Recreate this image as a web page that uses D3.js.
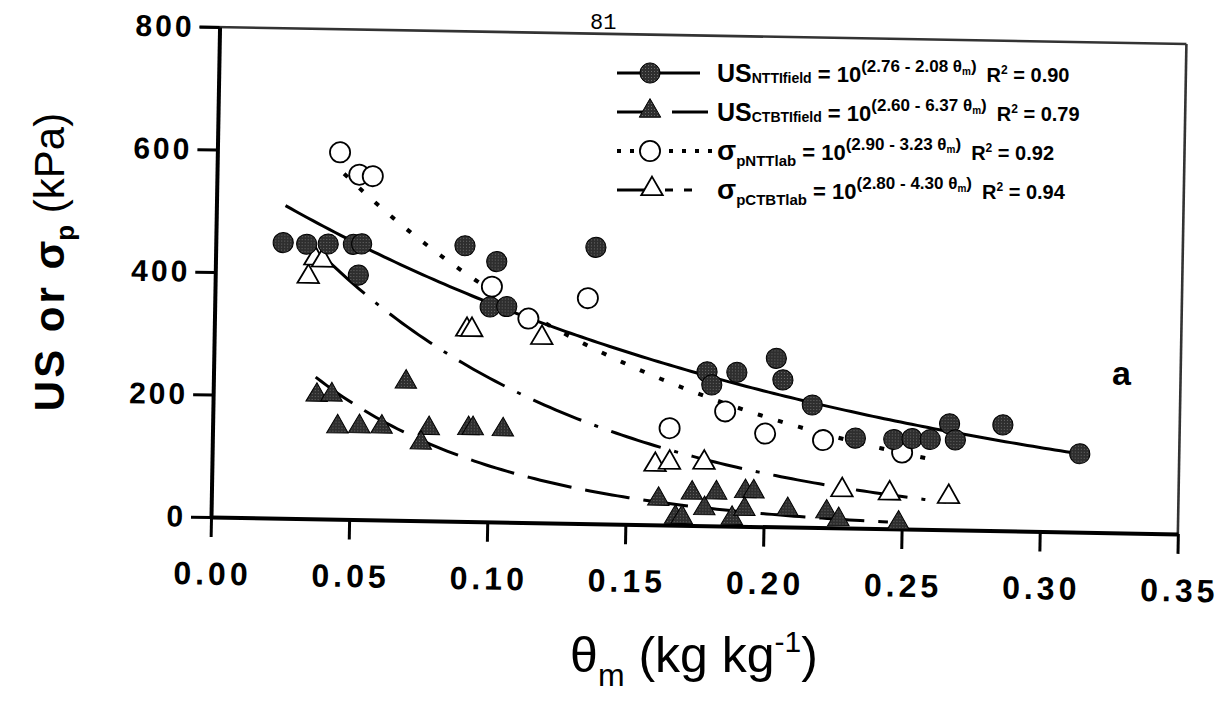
<!DOCTYPE html>
<html><head><meta charset="utf-8">
<script src="https://cdn.jsdelivr.net/npm/d3@7"></script>
<style>
body{margin:0;background:#fff}
svg{display:block;font-family:"Liberation Sans",Arial,sans-serif}
</style></head>
<body><svg id="chart" width="1228" height="706"></svg>
<script>
// ---------- data ----------
const ntField_theta = [0.0244,0.0329,0.0407,0.0498,0.0528,0.0518,0.0902,0.1018,0.0997,0.1057,0.1376,0.1786,0.1804,0.1894,0.2036,0.2061,0.2169,0.2327,0.2466,0.2532,0.2598,0.2667,0.2689,0.2860,0.3140];
const ntField_US    = [450,448,449,449,450,399,450,425,351,352,451,251,230,251,275,240,200,147,146,148,147,173,147,173,128];

const ctField_theta = [0.0375,0.0429,0.0697,0.0452,0.0531,0.0612,0.0783,0.0755,0.0926,0.0942,0.1051,0.1618,0.1680,0.1704,0.1739,0.1785,0.1827,0.1885,0.1932,0.1962,0.1930,0.2086,0.2227,0.2271,0.2488];
const ctField_US    = [202,203,226,151,152,152,151,127,152,152,151,42,13,13,53,28,54,13,57,57,28,29,26,14,10];

const ntLab_theta = [0.0444,0.0515,0.0564,0.1002,0.1136,0.1350,0.1654,0.1854,0.2000,0.2210,0.2497];
const ntLab_sp    = [599,563,561,384,333,368,158,187,152,143,125];

const ctLab_theta = [0.0337,0.0360,0.0388,0.0914,0.0932,0.1186,0.1604,0.1656,0.1781,0.2282,0.2454,0.2668];
const ctLab_sp    = [395,425,422,313,313,302,98,102,103,62,58,54];

// regression fits: value = 10^(a - b*theta)
const fitA    = [2.76, 2.60, 2.90, 2.80];
const fitB    = [2.08, 6.37, 3.23, 4.30];
const fitR2   = ["0.90", "0.79", "0.92", "0.94"];
const fitFrom = [0.025, 0.037, 0.046, 0.040];
const fitTo   = [0.314, 0.245, 0.260, 0.266];

const legendMain = ["US", "US", "\u03c3", "\u03c3"];
const legendSub  = ["NTTIfield", "CTBTIfield", "pNTTlab", "pCTBTlab"];

const xTicks = [0, 0.05, 0.10, 0.15, 0.20, 0.25, 0.30, 0.35];
const yTicks = [0, 200, 400, 600, 800];

// ---------- drawing ----------
const svg = d3.select("#chart");
const defs = svg.append("defs");
const pat = defs.append("pattern").attr("id", "stipple").attr("width", 3).attr("height", 3)
  .attr("patternUnits", "userSpaceOnUse");
pat.append("rect").attr("width", 3).attr("height", 3).attr("fill", "#2e2e2e");
pat.append("rect").attr("x", 1).attr("y", 1).attr("width", 1).attr("height", 1).attr("fill", "#6a6a6a");

const x = d3.scaleLinear().domain([0, 0.35]).range([211, 1178]);
const y = d3.scaleLinear().domain([0, 800]).range([517, 27]);

const g = svg.append("g").attr("transform", "rotate(1,211,517)");

// frame top/right
g.append("line").attr("x1", x(0) - 20).attr("x2", x(0.35)).attr("y1", y(800)).attr("y2", y(800))
  .attr("stroke", "#333").attr("stroke-width", 2.6);
g.append("line").attr("x1", x(0.35)).attr("x2", x(0.35)).attr("y1", y(800)).attr("y2", y(0))
  .attr("stroke", "#333").attr("stroke-width", 2.6);

// axes
const xAxis = d3.axisBottom(x).tickValues(xTicks).tickSize(20).tickSizeOuter(0).tickPadding(25)
  .tickFormat(d3.format(".2f"));
const yAxis = d3.axisLeft(y).tickValues(yTicks).tickSize(20).tickSizeOuter(0).tickPadding(5)
  .tickFormat(d3.format("d"));

const gx = g.append("g").attr("transform", `translate(0,${y(0)})`).call(xAxis);
const gy = g.append("g").attr("transform", `translate(${x(0)},0)`).call(yAxis);
[gx, gy].forEach(a => {
  a.select(".domain").attr("stroke", "#000").attr("stroke-width", 4);
  a.selectAll(".tick line").attr("stroke", "#000").attr("stroke-width", 3);
  a.selectAll(".tick text").attr("fill", "#000").attr("font-weight", "bold")
    .attr("font-family", "'Liberation Sans',Arial,sans-serif");
});
gx.selectAll(".tick text").attr("font-size", 32).attr("letter-spacing", 4).attr("dx", 2);
gy.selectAll(".tick text").attr("font-size", 30).attr("letter-spacing", 3);

// fitted curves
const dashes = [null, "45,14", "5,16", "52,14,4,14"];
const widths = [3, 3, 4, 3];
const line = d3.line().x(d => x(d[0])).y(d => y(d[1]));
fitA.forEach((a, i) => {
  const pts = d3.range(fitFrom[i], fitTo[i], 0.002).concat([fitTo[i]])
    .map(t => [t, Math.pow(10, a - fitB[i] * t)]);
  g.append("path").attr("d", line(pts)).attr("fill", "none")
    .attr("stroke", "#000").attr("stroke-width", widths[i])
    .attr("stroke-dasharray", dashes[i]);
});

const FILL = "url(#stipple)";
const circ = d3.symbol().type(d3.symbolCircle).size(320);
const tri = d3.symbol().type(d3.symbolTriangle).size(200);

function plot(th, vals, sym, filled) {
  g.append("g").selectAll("path").data(th).join("path")
    .attr("transform", (d, i) => `translate(${x(d)},${y(vals[i])})`)
    .attr("d", sym)
    .attr("fill", filled ? FILL : "#fff")
    .attr("stroke", "#000").attr("stroke-width", filled ? 1 : 1.8);
}
plot(ctLab_theta, ctLab_sp, tri, false);
plot(ntLab_theta, ntLab_sp, circ, false);
plot(ctField_theta, ctField_US, tri, true);
plot(ntField_theta, ntField_US, circ, true);

// axis titles
const yl = svg.append("text").attr("transform", "translate(64,262) rotate(-90)")
  .attr("text-anchor", "middle").attr("font-weight", "bold").attr("font-size", 42).attr("fill", "#000");
yl.append("tspan").attr("letter-spacing", 3).text("US or ");
yl.append("tspan").text("\u03c3");
yl.append("tspan").attr("font-size", 26).attr("dy", 10).text("p");
yl.append("tspan").attr("dy", -10).attr("font-weight", "normal").text(" (kPa)");

const xl = svg.append("text").attr("x", 694).attr("y", 672).attr("text-anchor", "middle")
  .attr("font-size", 50).attr("fill", "#000");
xl.append("tspan").text("\u03b8");
xl.append("tspan").attr("font-size", 32).attr("dy", 14).text("m");
xl.append("tspan").attr("dy", -14).text(" (kg kg");
xl.append("tspan").attr("font-size", 30).attr("dy", -20).text("-1");
xl.append("tspan").attr("dy", 20).text(")");

// panel letter & page number
svg.append("text").attr("x", 1112).attr("y", 385).attr("font-size", 34).attr("font-weight", "bold").text("a");
svg.append("text").attr("x", 590).attr("y", 29).attr("font-size", 22)
  .attr("font-family", "'Liberation Mono','DejaVu Sans Mono',monospace").text("81");

// legend
const rowY = [73, 112, 151, 190];
const lg = svg.append("g");
rowY.forEach((ry, i) => {
  const row = lg.append("g");
  if (i === 0) {
    row.append("line").attr("x1", 617).attr("x2", 700).attr("y1", ry).attr("y2", ry).attr("stroke", "#000").attr("stroke-width", 3);
    row.append("path").attr("transform", `translate(650,${ry})`).attr("d", circ).attr("fill", FILL).attr("stroke", "#000");
  } else if (i === 1) {
    row.append("line").attr("x1", 617).attr("x2", 645).attr("y1", ry).attr("y2", ry).attr("stroke", "#000").attr("stroke-width", 3);
    row.append("line").attr("x1", 672).attr("x2", 708).attr("y1", ry).attr("y2", ry).attr("stroke", "#000").attr("stroke-width", 3);
    row.append("path").attr("transform", `translate(650,${ry - 1})`).attr("d", tri).attr("fill", FILL).attr("stroke", "#000");
  } else if (i === 2) {
    row.append("line").attr("x1", 617).attr("x2", 712).attr("y1", ry).attr("y2", ry).attr("stroke", "#000").attr("stroke-width", 4).attr("stroke-dasharray", "4,9");
    row.append("path").attr("transform", `translate(650,${ry})`).attr("d", circ).attr("fill", "#fff").attr("stroke", "#000").attr("stroke-width", 1.8);
  } else {
    row.append("line").attr("x1", 617).attr("x2", 645).attr("y1", ry).attr("y2", ry).attr("stroke", "#000").attr("stroke-width", 3);
    row.append("line").attr("x1", 665).attr("x2", 696).attr("y1", ry).attr("y2", ry).attr("stroke", "#000").attr("stroke-width", 3).attr("stroke-dasharray", "8,11");
    row.append("path").attr("transform", `translate(652,${ry - 1})`).attr("d", tri).attr("fill", "#fff").attr("stroke", "#000").attr("stroke-width", 1.8);
  }
  const t = row.append("text").attr("x", 717).attr("y", ry + 9).attr("font-weight", "bold").attr("fill", "#000");
  const sigma = i >= 2;
  t.append("tspan").attr("font-size", sigma ? 28 : 25).text(legendMain[i]);
  t.append("tspan").attr("font-size", sigma ? 15 : 14).attr("dy", sigma ? 6 : 1).text(legendSub[i]);
  t.append("tspan").attr("font-size", 22).attr("dy", sigma ? -6 : -1).text(" = 10");
  t.append("tspan").attr("font-size", 17).attr("dy", -10).text(`(${fitA[i].toFixed(2)} - ${fitB[i].toFixed(2)} \u03b8`);
  t.append("tspan").attr("font-size", 10).attr("dy", 3).text("m");
  t.append("tspan").attr("font-size", 17).attr("dy", -3).text(")");
  t.append("tspan").attr("font-size", 20).attr("dy", 10).text("\u2002R");
  t.append("tspan").attr("font-size", 12).attr("dy", -8).text("2");
  t.append("tspan").attr("font-size", 20).attr("dy", 8).text(` = ${fitR2[i]}`);
});
</script>
</body></html>
